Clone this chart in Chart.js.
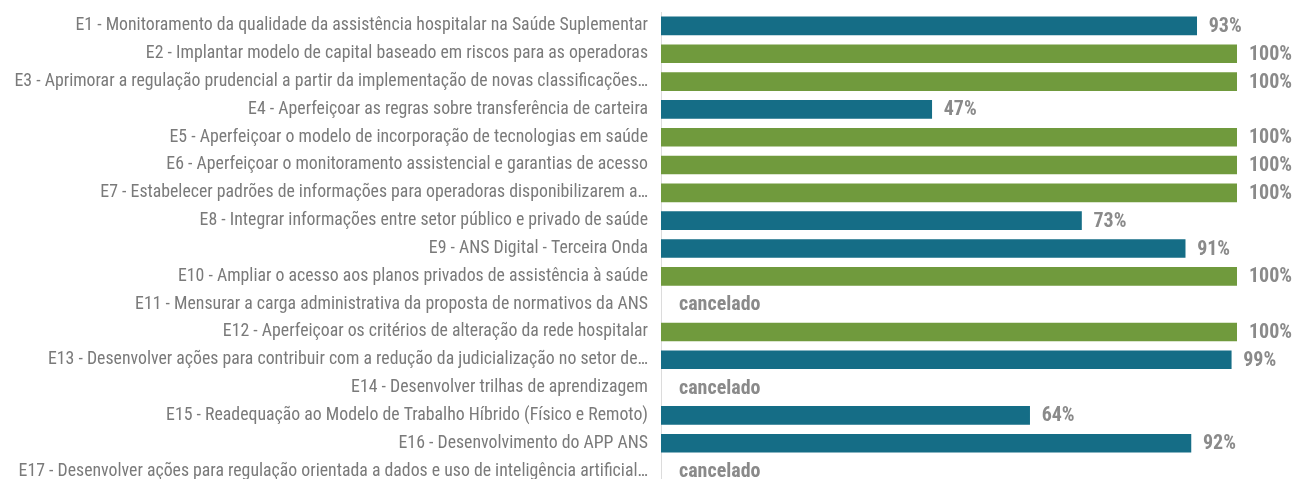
<!DOCTYPE html>
<html><head><meta charset="utf-8">
<script src="https://cdn.jsdelivr.net/npm/chart.js@4"></script>
<style>html,body{margin:0;padding:0;background:#fff;overflow:hidden}#wrap{width:1298px;height:485px;position:relative}</style>
</head><body><div id="wrap"><canvas id="c"></canvas></div>
<script>
const categories = [
"E1 - Monitoramento da qualidade da assistência hospitalar na Saúde Suplementar",
"E2 - Implantar modelo de capital baseado em riscos para as operadoras",
"E3 - Aprimorar a regulação prudencial a partir da implementação de novas classificações…",
"E4 - Aperfeiçoar as regras sobre transferência de carteira",
"E5 - Aperfeiçoar o modelo de incorporação de tecnologias em saúde",
"E6 - Aperfeiçoar o monitoramento assistencial e garantias de acesso",
"E7 - Estabelecer padrões de informações para operadoras disponibilizarem a…",
"E8 - Integrar informações entre setor público e privado de saúde",
"E9 - ANS Digital - Terceira Onda",
"E10 - Ampliar o acesso aos planos privados de assistência à saúde",
"E11 - Mensurar a carga administrativa da proposta de normativos da ANS",
"E12 - Aperfeiçoar os critérios de alteração da rede hospitalar",
"E13 - Desenvolver ações para contribuir com a redução da judicialização no setor de…",
"E14 - Desenvolver trilhas de aprendizagem",
"E15 - Readequação ao Modelo de Trabalho Híbrido (Físico e Remoto)",
"E16 - Desenvolvimento do APP ANS",
"E17 - Desenvolver ações para regulação orientada a dados e uso de inteligência artificial…"
];
const values = [93,100,100,47,100,100,100,73,91,100,null,100,99,null,64,92,null];
const statusLabels = ["","","","","","","","","","","cancelado","","","cancelado","","","cancelado"];

const FONT = '"Roboto Condensed","Liberation Sans Narrow","DejaVu Sans Condensed","Arial Narrow",sans-serif';
const TEAL = '#156d86', GREEN = '#709a3d';

const labelPlugin = {
  id: 'valLabels',
  afterDatasetsDraw(chart) {
    const ctx = chart.ctx;
    const xs = chart.scales.x, ys = chart.scales.y;
    ctx.save();
    ctx.font = 'bold 20px ' + FONT;
    ctx.fillStyle = '#8a8a8a';
    ctx.textBaseline = 'middle';
    ctx.textAlign = 'left';
    values.forEach((v, i) => {
      const y = ys.getPixelForValue(i);
      if (v === null) {
        ctx.fillText(statusLabels[i], xs.getPixelForValue(0) + 18, y + 1);
      } else {
        ctx.fillText(v + '%', xs.getPixelForValue(v) + 12, y + 1);
      }
    });
    ctx.restore();
  }
};

new Chart(document.getElementById('c'), {
  type: 'bar',
  data: {
    labels: categories,
    datasets: [{
      data: values,
      backgroundColor: values.map(v => v === 100 ? GREEN : TEAL),
      barThickness: 18
    }]
  },
  options: {
    indexAxis: 'y',
    responsive: true,
    maintainAspectRatio: false,
    animation: false,
    layout: { padding: { top: 12, right: 61, left: 0, bottom: 0 } },
    plugins: { legend: { display: false }, tooltip: { enabled: false } },
    scales: {
      x: { display: false, min: 0, max: 100 },
      y: {
        grid: { display: false, drawTicks: false },
        border: { display: true, color: '#dcdcdc', width: 1 },
        ticks: { color: '#7a7a7a', padding: 13, font: { family: FONT, size: 17.8 }, autoSkip: false },
        afterFit(scale) { scale.width = 661; scale.paddingTop = 0; scale.paddingBottom = 0; }
      }
    }
  },
  plugins: [labelPlugin]
});
</script></body></html>
